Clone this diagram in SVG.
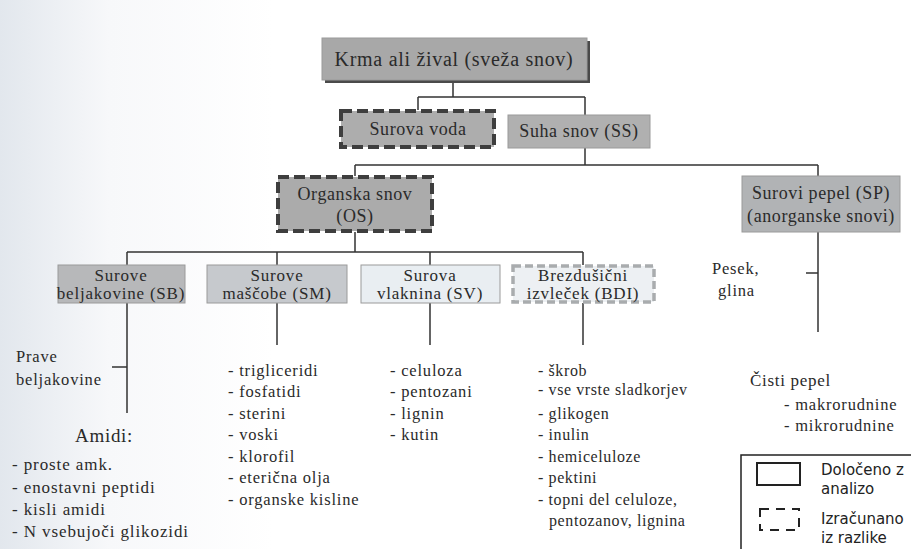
<svg xmlns="http://www.w3.org/2000/svg" width="911" height="549" viewBox="0 0 911 549">
<defs>
<linearGradient id="bg" x1="0" y1="0" x2="1" y2="0">
<stop offset="0" stop-color="#e2e7ed"/>
<stop offset="0.12" stop-color="#f7f8fa"/>
<stop offset="0.3" stop-color="#ffffff"/>
</linearGradient>
<style>
.t{font-family:"Liberation Serif","DejaVu Serif",serif;fill:#2a2a2a;letter-spacing:0.7px}
.bx{font-size:18px;text-anchor:middle;letter-spacing:0.6px}
.b3{font-size:17px;text-anchor:middle;letter-spacing:0.8px}
.li{font-size:16.5px;letter-spacing:0.8px}
.lb{font-size:16px;letter-spacing:0.6px}
.ls{font-size:17px;letter-spacing:0.9px}
.lg{font-family:"DejaVu Sans","Liberation Sans",sans-serif;font-size:15px;fill:#222}
.ln{stroke:#333;stroke-width:1.5;fill:none}
.solid{stroke:#9a9a9a;stroke-width:1}
.dk{stroke:#3e3e3e;stroke-width:4;stroke-dasharray:11 5}
.lt{stroke:#a9acae;stroke-width:3.5;stroke-dasharray:8 4}
</style>
</defs>
<rect x="0" y="0" width="911" height="549" fill="url(#bg)"/>

<g id="connectors" class="ln">
<path d="M453 80V97M418 97H585M418 97V110M585 97V115"/>
<path d="M585 148V165M355 165H818M355 165V176M818 165V176"/>
<path d="M355 232V252M127 252H583M127 252V265M277 252V265M430 252V265M583 252V265"/>
<path d="M127 303V413M112 367H127"/>
<path d="M277 303V345M430 303V345M583 303V345"/>
<path d="M818 232V332M806 273H818"/>
</g>

<g id="krma">
<rect x="325" y="41" width="265" height="42" fill="#4a4a4a"/>
<rect x="322" y="38" width="265" height="42" fill="#a8a8a8" class="solid"/>
<text class="t" x="454" y="66" text-anchor="middle" font-size="20">Krma ali žival (sveža snov)</text>
</g>

<g id="voda">
<rect x="341" y="111" width="153" height="36" fill="#adadad" class="dk"/>
<text class="t bx" x="418" y="135">Surova voda</text>
</g>

<g id="ss">
<rect x="508" y="115" width="142" height="33" fill="#b0b0b0" class="solid"/>
<text class="t bx" x="579" y="137">Suha snov (SS)</text>
</g>

<g id="os">
<rect x="278" y="177" width="154" height="54" fill="#ababab" class="dk"/>
<text class="t bx" x="355" y="200">Organska snov</text>
<text class="t bx" x="355" y="222">(OS)</text>
</g>

<g id="sp">
<rect x="742" y="176" width="158" height="56" fill="#b1b3b5" class="solid"/>
<text class="t bx" x="821" y="199">Surovi pepel (SP)</text>
<text class="t bx" x="821" y="222">(anorganske snovi)</text>
</g>

<g id="sb">
<rect x="58" y="265" width="127" height="38" fill="#b7b8ba" class="solid"/>
<text class="t b3" x="121" y="281">Surove</text>
<text class="t b3" x="121" y="299">beljakovine (SB)</text>
</g>

<g id="sm">
<rect x="207" y="265" width="140" height="38" fill="#c6c9cd" class="solid"/>
<text class="t b3" x="277" y="281">Surove</text>
<text class="t b3" x="277" y="299">maščobe (SM)</text>
</g>

<g id="sv">
<rect x="361" y="265" width="139" height="38" fill="#e9eef2" class="solid"/>
<text class="t b3" x="430" y="281">Surova</text>
<text class="t b3" x="430" y="299">vlaknina (SV)</text>
</g>

<g id="bdi">
<rect x="513" y="266" width="141" height="36" fill="#edf0f3" class="lt"/>
<text class="t b3" x="583" y="281">Brezdušični</text>
<text class="t b3" x="583" y="299">izvleček (BDI)</text>
</g>

<g id="sb-items">
<text class="t li" x="16" y="362">Prave</text>
<text class="t li" x="16" y="385">beljakovine</text>
<text class="t" x="75" y="442" font-size="19" letter-spacing="1">Amidi:</text>
<text class="t ls" x="12" y="470">- proste amk.</text>
<text class="t ls" x="12" y="493">- enostavni peptidi</text>
<text class="t ls" x="12" y="515">- kisli amidi</text>
<text class="t ls" x="12" y="537">- N vsebujoči glikozidi</text>
</g>

<g id="sm-items">
<text class="t li" x="228" y="376">- trigliceridi</text>
<text class="t li" x="228" y="397">- fosfatidi</text>
<text class="t li" x="228" y="419">- sterini</text>
<text class="t li" x="228" y="440">- voski</text>
<text class="t li" x="228" y="462">- klorofil</text>
<text class="t li" x="228" y="483">- eterična olja</text>
<text class="t li" x="228" y="505">- organske kisline</text>
</g>

<g id="sv-items">
<text class="t li" x="390" y="376">- celuloza</text>
<text class="t li" x="390" y="397">- pentozani</text>
<text class="t li" x="390" y="419">- lignin</text>
<text class="t li" x="390" y="440">- kutin</text>
</g>

<g id="bdi-items">
<text class="t lb" x="538" y="376">- škrob</text>
<text class="t lb" x="538" y="395">- vse vrste sladkorjev</text>
<text class="t lb" x="538" y="419">- glikogen</text>
<text class="t lb" x="538" y="440">- inulin</text>
<text class="t lb" x="538" y="462">- hemiceluloze</text>
<text class="t lb" x="538" y="483">- pektini</text>
<text class="t lb" x="538" y="505">- topni del celuloze,</text>
<text class="t lb" x="549" y="526">pentozanov, lignina</text>
</g>

<g id="sp-items">
<text class="t li" x="712" y="274">Pesek,</text>
<text class="t li" x="718" y="296">glina</text>
<text class="t" x="750" y="386" font-size="17" letter-spacing="0.8">Čisti pepel</text>
<text class="t li" x="784" y="410">- makrorudnine</text>
<text class="t li" x="784" y="431">- mikrorudnine</text>
</g>

<g id="legend">
<rect x="741" y="455" width="185" height="105" fill="#ffffff" stroke="#222" stroke-width="1.5"/>
<rect x="757" y="463" width="43" height="22" fill="none" stroke="#222" stroke-width="2"/>
<rect x="760" y="509" width="39" height="21" fill="none" stroke="#222" stroke-width="2" stroke-dasharray="9 7"/>
<text class="lg" x="821" y="475">Določeno z</text>
<text class="lg" x="821" y="494">analizo</text>
<text class="lg" x="821" y="524">Izračunano</text>
<text class="lg" x="821" y="543">iz razlike</text>
</g>
</svg>
